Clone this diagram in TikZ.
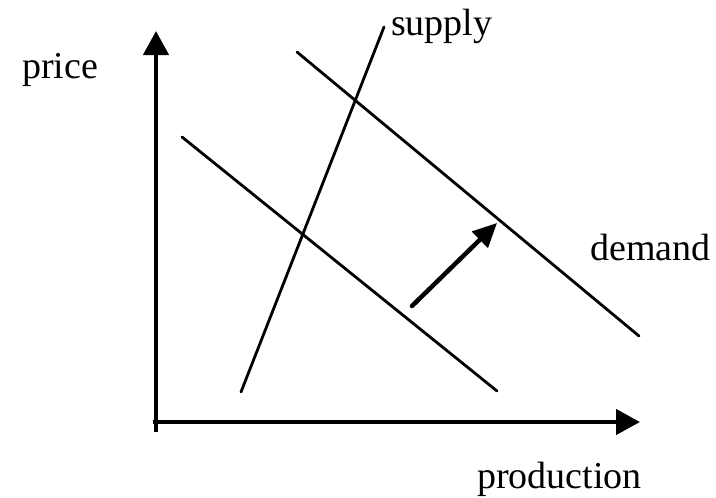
\documentclass[tikz,border=0pt]{standalone}
\usepackage{fontspec}
\setmainfont{Liberation Serif}
\usetikzlibrary{arrows.meta}
\begin{document}
\begin{tikzpicture}[x=1pt,y=-1pt,
  axisline/.style={line width=4.5pt,-{Triangle[length=24pt,width=25pt]}},
  curveline/.style={line width=2.8pt,line cap=round},
  shiftarrow/.style={line width=4.5pt,line cap=round,-{Triangle[length=24pt,width=22pt]}},
  lbl/.style={anchor=base west,inner sep=0pt,font=\fontsize{38}{40}\selectfont}]
\useasboundingbox (0,0) rectangle (716,498);
% axes
\coordinate (o1) at (156,432);
\coordinate (ytip) at (156,31);
\coordinate (o2) at (153,422);
\coordinate (xtip) at (640,422);
\draw[axisline] (o1) -- (ytip);
\draw[axisline] (o2) -- (xtip);
% supply
\coordinate (s1) at (241,392);
\coordinate (s2) at (384,27);
\draw[curveline] (s1) -- (s2);
% demand curves
\coordinate (d1a) at (182,137);
\coordinate (d1b) at (497,391);
\draw[curveline] (d1a) -- (d1b);
\coordinate (d2a) at (297,52);
\coordinate (d2b) at (639,336);
\draw[curveline] (d2a) -- (d2b);
% shift arrow
\coordinate (a1) at (412,306);
\coordinate (a2) at (497,223);
\draw[shiftarrow] (a1) -- (a2);
% labels
\node[lbl] (price) at (22,78) {price};
\node[lbl] (supply) at (391,35) {supply};
\node[lbl] (demand) at (590,260) {demand};
\node[lbl] (production) at (477,488) {production};
\end{tikzpicture}
\end{document}
